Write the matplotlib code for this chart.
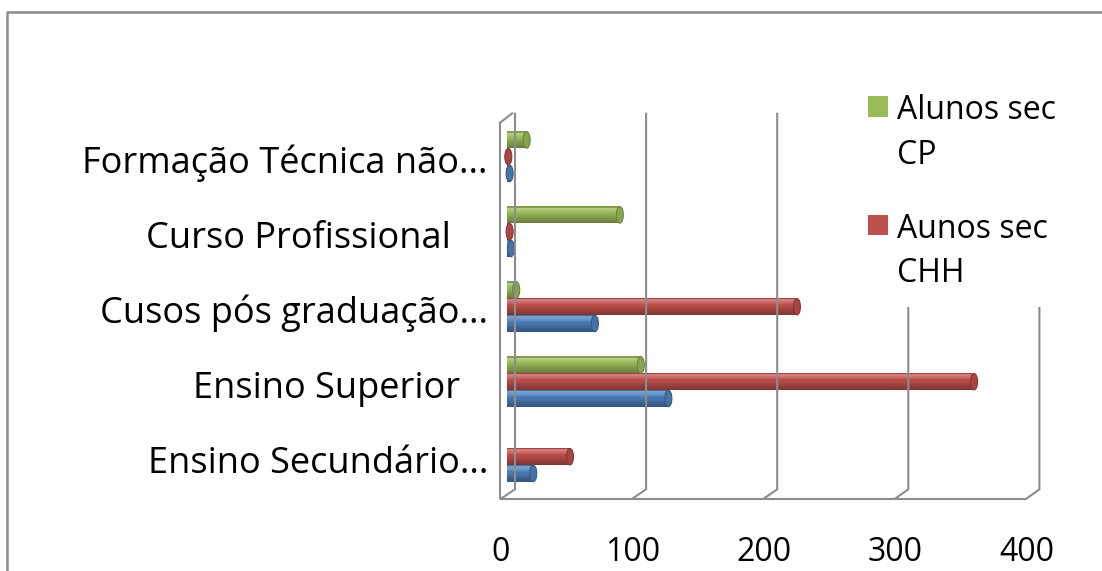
import numpy as np
import matplotlib.pyplot as plt
from matplotlib.patches import Ellipse, Rectangle
from matplotlib.lines import Line2D
from matplotlib.colors import to_rgb

plt.rcParams['font.family'] = ['Open Sans', 'DejaVu Sans']

# data, categories listed bottom to top
categories = ["Ensino Secundário...", "Ensino Superior   ", "Cusos pós graduação...",
              "Curso Profissional    ", "Formação Técnica não..."]
series_names = ["Alunos sec CP", "Aunos sec CHH", "Alunos sec"]
green_vals = [0, 102, 7, 86, 15]
red_vals = [48, 356, 221, 2, 1]
blue_vals = [20, 123, 67, 3, 2]
x_ticks = [0, 100, 200, 300, 400]

GREEN = "#9BBB59"
RED = "#C0504D"
BLUE = "#4F81BD"
WALL = "#8c8c8c"

W, H = 1102, 571
ORIGIN_PX = 507.0      # pixel x of value 0 for the bars
PX_PER_UNIT = 1.312
ROW0_PX = 456.7        # pixel y of lowest category centre
ROW_PX = 75.0


def mix(c, other, a):
    c = np.array(to_rgb(c))
    return tuple(c * (1 - a) + np.array(other) * a)


def shade(c, t):
    # t: 0 top of cylinder, 1 bottom
    if t < 0.08:
        return mix(c, (0, 0, 0), 0.15)
    if t < 0.35:
        return mix(c, (1, 1, 1), 0.28 - 0.23 * (t - 0.08) / 0.27)
    return mix(c, (0, 0, 0), 0.35 * (t - 0.35) / 0.65)


fig = plt.figure(figsize=(W / 100, H / 100), dpi=100)
ax = fig.add_axes([0, 0, 1, 1])
ax.set_xlim(-ORIGIN_PX / PX_PER_UNIT, (W - ORIGIN_PX) / PX_PER_UNIT)
ax.set_ylim(-(H - ROW0_PX) / ROW_PX, ROW0_PX / ROW_PX)
ax.axis("off")


def py(p):
    # pixel y (from top) -> data y
    return (ROW0_PX - p) / ROW_PX


def px(p):
    return (p - ORIGIN_PX) / PX_PER_UNIT


# walls and floor of the 3d box
wc = dict(color=WALL, lw=1.5, solid_capstyle="butt", solid_joinstyle="miter")
ax.plot([px(513), px(500), px(500)], [py(112.7), py(122.7), py(499.3)], **wc)
for v in x_ticks:
    back = px(515 + 1.311 * v)
    front = px(500 + 1.314 * v)
    top = 112.7 if v < 300 else 307
    ax.plot([back, back, front], [py(top), py(489.3), py(499.3)], **wc)
ax.plot([px(500), px(500 + 1.314 * 400)], [py(499.3), py(499.3)], **wc)

bh = 16.8 / ROW_PX
cap_w = 7 / PX_PER_UNIT
n_strip = 14
y = np.arange(len(categories))
for vals, col, off in [(blue_vals, BLUE, -1), (red_vals, RED, 0), (green_vals, GREEN, 1)]:
    for yi, v in zip(y, vals):
        if v <= 0:
            continue
        yc = yi + off * bh
        for k in range(n_strip):
            t = (k + 0.5) / n_strip
            ytop = yc + bh / 2 - k * bh / n_strip
            ax.barh(ytop - bh / n_strip / 2, v, height=bh / n_strip * 1.05,
                    left=0, color=shade(col, t), lw=0)
        ax.add_patch(Ellipse((v, yc), cap_w, bh * 0.98,
                             facecolor=mix(col, (0, 0, 0), 0.12),
                             edgecolor=mix(col, (0, 0, 0), 0.3), lw=0.8))

# category labels
for yi, lab in zip(y, categories):
    ax.text(px(488), yi - 16.5 / ROW_PX, lab, ha="right", va="baseline", fontsize=26)

# value axis labels sit on the front edge of the floor
ax2 = fig.add_axes([0, (H - 536) / H, 1, 0.001])
ax2.set_xlim(-501 / 1.314, (W - 501) / 1.314)
ax2.set_xticks(x_ticks)
ax2.set_xticklabels([str(v) for v in x_ticks], fontsize=23)
ax2.tick_params(length=0, pad=0)
ax2.set_yticks([])
for s in ax2.spines.values():
    s.set_visible(False)
ax2.patch.set_alpha(0)

# legend (blue entry is cut off in the original)
for i, (name, col) in enumerate(zip(series_names[:2], [GREEN, RED])):
    top_line, second = name.rsplit(" ", 1)
    yc = 106.5 + i * 119
    fig.add_artist(Rectangle((868 / W, 1 - (yc + 10) / H), 20 / W, 20 / H,
                             transform=fig.transFigure, color=col, lw=0))
    fig.text(897 / W, 1 - yc / H, top_line, va="center_baseline", ha="left", fontsize=23)
    fig.text(897 / W, 1 - (yc + 44.5) / H, second, va="center_baseline", ha="left", fontsize=23)

# chart border
fig.add_artist(Line2D([7 / W, 7 / W, 1], [0, 1 - 11.5 / H, 1 - 11.5 / H],
                      transform=fig.transFigure, color=WALL, lw=1.8))

fig.savefig("out.png", dpi=100)
